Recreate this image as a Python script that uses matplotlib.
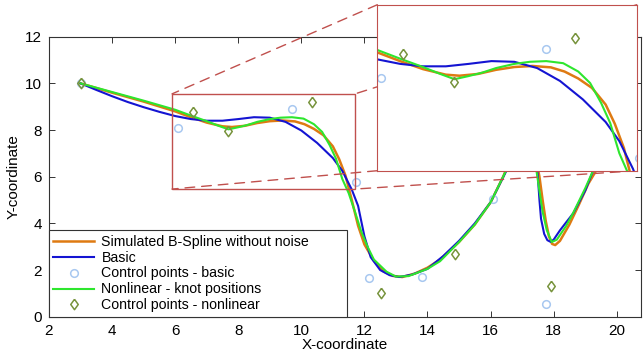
import numpy as np
import matplotlib
matplotlib.use("Agg")
import matplotlib.pyplot as plt
from matplotlib.patches import Rectangle, ConnectionPatch

plt.rcParams['font.family'] = ['Liberation Sans', 'DejaVu Sans']

# curves
sim_x = [3.0, 4.0, 5.0, 6.0, 6.5, 7.0, 7.5, 7.8, 8.2, 8.6, 9.0, 9.4, 9.8, 10.1, 10.4,
         10.7, 11.0, 11.2, 11.4, 11.6, 11.8, 12.0, 12.3, 12.6, 12.9, 13.2, 13.6, 14.0,
         14.4, 15.0, 15.5, 16.0, 16.4, 16.8, 17.2, 17.45, 17.55, 17.65, 17.75, 17.85,
         17.95, 18.05, 18.2, 18.5, 18.8, 19.1, 19.36, 19.7, 20.1, 20.4]
sim_y = [10.0, 9.60, 9.22, 8.80, 8.55, 8.32, 8.16, 8.13, 8.18, 8.30, 8.38, 8.41, 8.37, 8.25, 8.05,
         7.78, 7.30, 6.75, 6.05, 5.00, 3.90, 3.10, 2.40, 1.95, 1.75, 1.70, 1.85, 2.10,
         2.45, 3.20, 3.95, 4.90, 6.00, 7.30, 7.40, 6.70, 6.00, 5.00, 4.10, 3.45,
         3.12, 3.07, 3.25, 3.95, 4.80, 5.70, 6.29, 7.40, 8.40, 9.00]

basic_x = [3.0, 3.5, 4.0, 4.5, 5.0, 5.5, 6.0, 6.5, 7.0, 7.5, 8.0, 8.5, 9.0, 9.5, 10.0,
           10.5, 11.0, 11.3, 11.6, 11.8, 12.0, 12.2, 12.5, 12.8, 13.1, 13.5, 14.0, 14.5,
           15.0, 15.5, 16.0, 16.5, 17.0, 17.3, 17.45, 17.5, 17.55, 17.6, 17.7, 17.8,
           17.9, 18.0, 18.2, 18.4, 18.62, 19.0, 19.26, 19.6, 20.0, 20.4]
basic_y = [10.0, 9.72, 9.45, 9.20, 8.98, 8.78, 8.60, 8.47, 8.40, 8.40, 8.47, 8.55, 8.53, 8.35, 7.98,
           7.45, 6.80, 6.25, 5.45, 4.75, 3.45, 2.55, 2.00, 1.78, 1.70, 1.80, 2.05, 2.60,
           3.25, 4.00, 4.90, 6.25, 7.50, 7.30, 6.60, 6.00, 5.00, 4.20, 3.55, 3.28,
           3.21, 3.30, 3.70, 4.05, 4.43, 5.40, 6.29, 7.50, 8.50, 9.00]

nonlin_x = [3.0, 4.0, 5.0, 6.0, 6.5, 7.0, 7.4, 7.69, 8.0, 8.3, 8.6, 9.0, 9.34, 9.7, 10.07,
            10.4, 10.66, 10.9, 11.1, 11.3, 11.5, 11.7, 11.9, 12.1, 12.3, 12.7, 13.0, 13.4,
            14.0, 14.4, 15.0, 15.5, 16.0, 16.4, 16.8, 17.2, 17.45, 17.55, 17.65, 17.78,
            17.94, 18.1, 18.4, 18.62, 19.0, 19.26, 19.6, 20.0, 20.4]
nonlin_y = [10.0, 9.63, 9.26, 8.87, 8.62, 8.38, 8.17, 8.03, 8.12, 8.22, 8.35, 8.47, 8.53, 8.55, 8.49,
            8.25, 7.92, 7.35, 6.77, 5.90, 5.30, 4.50, 3.65, 3.00, 2.45, 1.93, 1.72, 1.74,
            2.05, 2.38, 3.20, 3.95, 4.90, 6.00, 7.20, 7.20, 6.30, 5.40, 4.50, 3.72,
            3.20, 3.30, 3.90, 4.45, 5.50, 6.29, 7.40, 8.40, 9.00]

cp_basic_x = [3.0, 6.08, 9.70, 11.73, 12.16, 13.84, 16.09, 17.75]
cp_basic_y = [10.0, 8.07, 8.89, 5.76, 1.67, 1.69, 5.03, 0.54]

cp_nonlin_x = [3.0, 6.57, 7.68, 10.33, 12.53, 14.87, 17.91]
cp_nonlin_y = [10.0, 8.76, 7.96, 9.22, 1.03, 2.69, 1.30]

labels = ['Simulated B-Spline without noise', 'Basic', 'Control points - basic',
          'Nonlinear - knot positions', 'Control points - nonlinear']

zoom_x = (5.9, 11.7)
zoom_y = (5.47, 9.55)

c_orange = '#de7a12'
c_blue = '#1414d2'
c_green = '#2ee62e'
c_circ = '#a8c8f0'
c_diam = '#77933c'
c_red = '#c0504d'

diamond = [(0, 1), (0.72, 0), (0, -1), (-0.72, 0), (0, 1)]


def draw_all(a):
    a.plot(sim_x, sim_y, color=c_orange, lw=1.8)
    a.plot(basic_x, basic_y, color=c_blue, lw=1.5)
    a.plot(cp_basic_x, cp_basic_y, 'o', mfc='none', mec=c_circ, ms=5.5, mew=1.1)
    a.plot(nonlin_x, nonlin_y, color=c_green, lw=1.5)
    a.plot(cp_nonlin_x, cp_nonlin_y, ls='none', marker=diamond, mfc='none',
           mec=c_diam, ms=7.5, mew=1.1)


fig = plt.figure(figsize=(6.43, 3.61), dpi=100)
ax = fig.add_axes([0.0762, 0.1227, 0.9207, 0.7756])
draw_all(ax)
for l, lab in zip(ax.lines, labels):
    l.set_label(lab)

ax.set_xlim(2, 20.77)
ax.set_ylim(0, 12)
ax.set_xticks(np.arange(2, 21, 2))
ax.set_yticks(np.arange(0, 13, 2))
ax.tick_params(direction='in', top=True, right=True, length=4, width=0.7,
               labelsize=11, color='#333333', pad=5)
for s in ax.spines.values():
    s.set_color('#333333')
    s.set_linewidth(0.8)
ax.set_xlabel('X-coordinate', fontsize=11, labelpad=0)
ax.set_ylabel('Y-coordinate', fontsize=11, labelpad=3)

leg = ax.legend(loc='lower left', bbox_to_anchor=(0, 0, 0.504, 0.3), mode='expand',
                borderaxespad=0, fontsize=10.2, fancybox=False, framealpha=1,
                edgecolor='#333333', handlelength=2.9, handletextpad=0.5,
                labelspacing=0.14, borderpad=0.3)
leg.get_frame().set_linewidth(0.8)

ax.add_patch(Rectangle((zoom_x[0], zoom_y[0]), zoom_x[1] - zoom_x[0], zoom_y[1] - zoom_y[0],
                       fill=False, ec=c_red, lw=1.0, zorder=4))

axin = fig.add_axes([0.5868, 0.5271, 0.4034, 0.4598])
axin.set_zorder(5)
draw_all(axin)
axin.set_xlim(6.0, 11.68)
axin.set_ylim(5.40, 10.17)
axin.set_xticks([])
axin.set_yticks([])
for s in axin.spines.values():
    s.set_color(c_red)
    s.set_linewidth(0.8)

# dashed connectors from box corners to inset corners
corners = [((0, 1), (zoom_x[0], zoom_y[1])), ((0, 0), (zoom_x[0], zoom_y[0])),
           ((1, 1), (zoom_x[1], zoom_y[1])), ((1, 0), (zoom_x[1], zoom_y[0]))]
for pa, pb in corners:
    cp = ConnectionPatch(xyA=pa, coordsA='axes fraction', axesA=axin,
                         xyB=pb, coordsB='data', axesB=ax,
                         color=c_red, lw=1.0, linestyle=(0, (7, 5)))
    cp.set_zorder(3)
    fig.add_artist(cp)

fig.savefig('out.png', dpi=100)
